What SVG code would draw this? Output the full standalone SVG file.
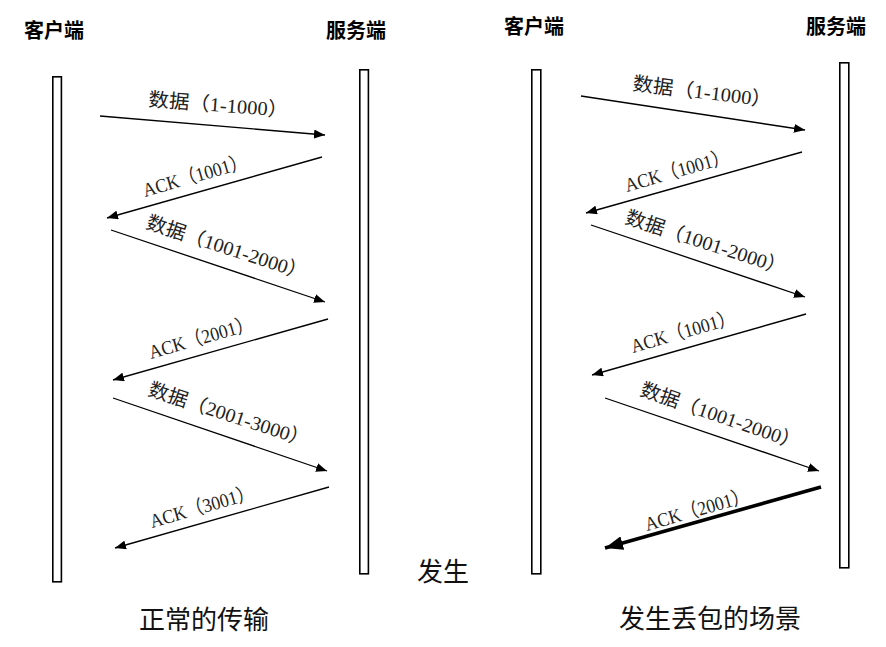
<svg xmlns="http://www.w3.org/2000/svg" width="886" height="647" viewBox="0 0 886 647">
<defs>
<marker id="ah" markerUnits="userSpaceOnUse" markerWidth="11" markerHeight="9" refX="11" refY="4.5" orient="auto"><path d="M0,0 L11,4.5 L0,9 Z" fill="#000"/></marker>
<marker id="ahb" markerUnits="userSpaceOnUse" markerWidth="18" markerHeight="14" refX="18" refY="7" orient="auto"><path d="M0,0 L18,7 L0,14 Z" fill="#000"/></marker>
</defs>
<style>
.bar{fill:#fff;stroke:#000;stroke-width:1.6}
.ln{stroke:#000;stroke-width:1.3;fill:none;marker-end:url(#ah)}
.lnb{stroke:#000;stroke-width:3.6;fill:none;marker-end:url(#ahb)}
.hd{font-family:"Noto Sans CJK SC","Liberation Serif",serif;font-size:20px;font-weight:bold;fill:#000}
.lb{font-family:"Liberation Serif","Noto Sans CJK SC",serif;font-size:19.5px;fill:#222}
.cap{font-family:"Noto Sans CJK SC",sans-serif;font-size:26px;fill:#111}
</style>
<rect width="886" height="647" fill="#fff"/>
<g id="left-client"><text class="hd" x="24" y="38">客户端</text><rect class="bar" x="52.8" y="76.8" width="8.6" height="505"/></g>
<g id="left-server"><text class="hd" x="326" y="38">服务端</text><rect class="bar" x="359.8" y="69.8" width="8.6" height="504"/></g>
<g id="right-client"><text class="hd" x="504" y="34">客户端</text><rect class="bar" x="531.8" y="69.8" width="9" height="504"/></g>
<g id="right-server"><text class="hd" x="806" y="34">服务端</text><rect class="bar" x="839.8" y="62.8" width="9" height="505"/></g>
<g id="connectors">
<line class="ln" x1="100" y1="116" x2="325" y2="135"/>
<line class="ln" x1="322" y1="157" x2="107" y2="218"/>
<line class="ln" x1="111" y1="230" x2="325" y2="302"/>
<line class="ln" x1="328" y1="319" x2="113" y2="380"/>
<line class="ln" x1="113" y1="398" x2="327" y2="471"/>
<line class="ln" x1="329" y1="487" x2="115" y2="548"/>
<line class="ln" x1="581" y1="96" x2="805" y2="130"/>
<line class="ln" x1="802" y1="152" x2="586" y2="213"/>
<line class="ln" x1="591" y1="225" x2="805" y2="297"/>
<line class="ln" x1="806" y1="314" x2="592" y2="375"/>
<line class="ln" x1="605" y1="398" x2="819" y2="471"/>
<line class="lnb" x1="821" y1="487" x2="605" y2="548"/>
</g>
<g id="labels">
<text class="lb" transform="translate(148,106) rotate(4.5)" textLength="140" lengthAdjust="spacingAndGlyphs">数据（1-1000）</text>
<text class="lb" transform="translate(145,197) rotate(-16)" textLength="108" lengthAdjust="spacingAndGlyphs">ACK（1001）</text>
<text class="lb" transform="translate(145,228) rotate(18)" textLength="168" lengthAdjust="spacingAndGlyphs">数据（1001-2000）</text>
<text class="lb" transform="translate(151,359) rotate(-16)" textLength="108" lengthAdjust="spacingAndGlyphs">ACK（2001）</text>
<text class="lb" transform="translate(147,395) rotate(18)" textLength="168" lengthAdjust="spacingAndGlyphs">数据（2001-3000）</text>
<text class="lb" transform="translate(152,528) rotate(-16)" textLength="108" lengthAdjust="spacingAndGlyphs">ACK（3001）</text>
<text class="lb" transform="translate(632,90) rotate(7)" textLength="140" lengthAdjust="spacingAndGlyphs">数据（1-1000）</text>
<text class="lb" transform="translate(627,192) rotate(-16)" textLength="108" lengthAdjust="spacingAndGlyphs">ACK（1001）</text>
<text class="lb" transform="translate(624,223) rotate(18)" textLength="168" lengthAdjust="spacingAndGlyphs">数据（1001-2000）</text>
<text class="lb" transform="translate(633,353) rotate(-16)" textLength="108" lengthAdjust="spacingAndGlyphs">ACK（1001）</text>
<text class="lb" transform="translate(639,395) rotate(19)" textLength="168" lengthAdjust="spacingAndGlyphs">数据（1001-2000）</text>
<text class="lb" transform="translate(647,531) rotate(-16)" textLength="108" lengthAdjust="spacingAndGlyphs">ACK（2001）</text>
</g>
<g id="captions">
<text class="cap" x="417" y="581" font-size="25">发生</text>
<text class="cap" x="139" y="629">正常的传输</text>
<text class="cap" x="619" y="628">发生丢包的场景</text>
</g>
</svg>
